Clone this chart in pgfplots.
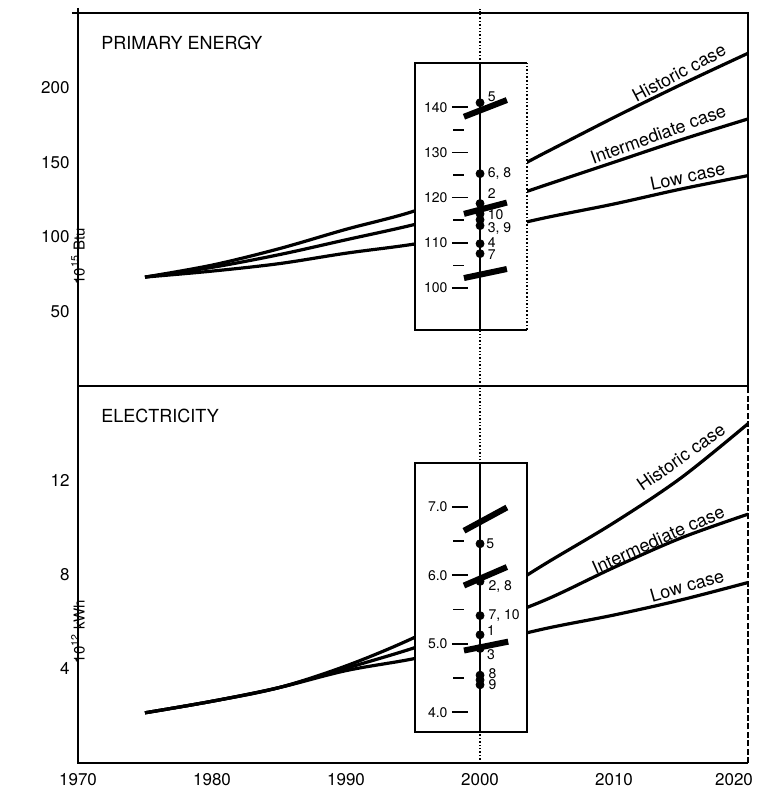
\documentclass[border=0pt]{standalone}
\usepackage{fontspec}
\setmainfont{TeX Gyre Heros}
\usepackage{pgfplots}
\pgfplotsset{compat=1.18}

\pgfplotsset{
  main/.style={
    scale only axis, width=335pt, anchor=south west,
    xmin=1970, xmax=2020,
    axis line style={line width=1pt},
    major tick length=0pt,
    ytick=\empty,
    /pgf/number format/assume math mode=true,
    /pgf/number format/1000 sep={},
    tick label style={font=\fontsize{8.5}{10}\selectfont},
    xticklabel style={yshift=-1.5pt},
    clip=false,
    every axis y label/.style={at={(rel axis cs:0,0.5)}, rotate=90, anchor=center,
      xshift=-28.5pt, font=\fontsize{7.5}{9}\selectfont},
  },
  case/.style={line width=1.6pt, smooth, tension=0.55, black},
  inset/.style={
    scale only axis, anchor=south west, width=56pt,
    xmin=1995.15, xmax=2003.5,
    axis background/.style={fill=white},
    axis line style={draw=none},
    xtick=\empty, ytick=\empty,
    clip=false,
  },
  bar/.style={line width=3pt, black},
  dot/.style={only marks, mark=*, mark size=2pt, black},
}
\tikzset{
  lbl/.style={font=\fontsize{9}{10}\selectfont, inner sep=0pt},
  ytl/.style={font=\fontsize{8.5}{10}\selectfont, inner sep=0pt, anchor=east, xshift=-4pt},
  itk/.style={font=\fontsize{7}{8}\selectfont, inner sep=0pt, anchor=east},
  ipt/.style={font=\fontsize{7}{8}\selectfont, inner sep=0pt, anchor=west},
}

\begin{document}
\begin{tikzpicture}
\path[use as bounding box] (0,0) rectangle (380pt,398.5pt);

% ---------- primary energy ----------
\begin{axis}[main, at={(39pt,205.5pt)}, height=186.5pt,
  ymin=0, ymax=250, xtick=\empty,
  ylabel={10\textsuperscript{15} Btu}]
  \node[ytl] at (axis cs:1970,50) {50};
  \node[ytl] at (axis cs:1970,100) {100};
  \node[ytl] at (axis cs:1970,150) {150};
  \node[ytl] at (axis cs:1970,200) {200};
  \draw[line width=1pt] ([yshift=2.5pt]rel axis cs:0,1) -- (rel axis cs:0,1);
  \draw[line width=1pt] ([xshift=-3pt]rel axis cs:0,1) -- (rel axis cs:0,1);
  \draw[densely dotted, line width=0.7pt] (axis cs:2000,0) -- (axis cs:2000,253);
  % historic
  \addplot[case] coordinates {(1975,73) (1980,81) (1985,92) (1990,105) (1995,117)
    (2000,134) (2005,157) (2010,180) (2015,202) (2020,223)};
  % intermediate
  \addplot[case] coordinates {(1975,73) (1980,79.5) (1985,88) (1990,98) (1995,108)
    (2000,120) (2005,135) (2010,150) (2015,165) (2020,179)};
  % low
  \addplot[case] coordinates {(1975,73) (1980,77) (1985,82) (1990,89) (1995,95)
    (2000,103) (2005,113) (2010,122) (2015,132) (2020,141)};
  \node[lbl, rotate=28] at (axis cs:2014.85,210) {Historic case};
  \node[lbl, rotate=20] at (axis cs:2013.3,168.7) {Intermediate case};
  \node[lbl, rotate=12] at (axis cs:2015.5,140.7) {Low case};
  \node[anchor=north west, inner sep=0pt, font=\fontsize{9}{10}\selectfont]
    at ([xshift=11.5pt,yshift=-11.5pt]rel axis cs:0,1) {PRIMARY ENERGY};
\end{axis}

% ---------- electricity ----------
\begin{axis}[main, at={(39pt,17pt)}, height=188.5pt,
  ymin=0, ymax=16, xtick={1970,1980,...,2010},
  extra x ticks={2020}, extra x tick style={xticklabel style={xshift=-7pt}},
  axis line style={draw=none},
  ylabel={10\textsuperscript{12} kWh}]
  \node[ytl] at (axis cs:1970,4) {4};
  \node[ytl] at (axis cs:1970,8) {8};
  \node[ytl] at (axis cs:1970,12) {12};
  \draw[line width=1pt] (rel axis cs:0,1) -- (rel axis cs:0,0) -- (rel axis cs:1,0);
  \draw[line width=1pt] (rel axis cs:0,1) -- (rel axis cs:1,1);
  \draw[line width=0.8pt, dash pattern=on 3pt off 1.2pt] (rel axis cs:1,0) -- (rel axis cs:1,1);
  \draw[densely dotted, line width=0.7pt] (axis cs:2000,0) -- (axis cs:2000,16);
  % historic
  \addplot[case] coordinates {(1975,2.13) (1980,2.62) (1985,3.2) (1990,4.12) (1995,5.3)
    (2000,6.75) (2005,8.5) (2010,10.2) (2015,12.1) (2020,14.4)};
  % intermediate
  \addplot[case] coordinates {(1975,2.13) (1980,2.62) (1985,3.2) (1990,4.02) (1995,4.87)
    (2000,5.85) (2005,6.95) (2010,8.3) (2015,9.55) (2020,10.56)};
  % low
  \addplot[case] coordinates {(1975,2.13) (1980,2.62) (1985,3.2) (1990,3.92) (1995,4.42)
    (2000,5.05) (2005,5.72) (2010,6.28) (2015,6.92) (2020,7.66)};
  \node[lbl, rotate=35] at (axis cs:2015.0,12.98) {Historic case};
  \node[lbl, rotate=24] at (axis cs:2013.3,9.49) {Intermediate case};
  \node[lbl, rotate=16] at (axis cs:2015.45,7.53) {Low case};
  \node[anchor=north west, inner sep=0pt, font=\fontsize{9}{10}\selectfont]
    at ([xshift=11.5pt,yshift=-11.5pt]rel axis cs:0,1) {ELECTRICITY};
\end{axis}

% ---------- inset, primary energy ----------
\begin{axis}[inset, at={(207.5pt,233.5pt)}, height=133.5pt, ymin=90.7, ymax=149.8]
  \draw[line width=0.8pt] (rel axis cs:1,1) -- (rel axis cs:0,1) -- (rel axis cs:0,0) -- (rel axis cs:1,0);
  \draw[line width=0.8pt, densely dotted] (rel axis cs:1,0) -- (rel axis cs:1,1);
  \draw[line width=0.6pt] (axis cs:2000,90.7) -- (axis cs:2000,149.8);
  \draw[line width=0.8pt] (axis cs:1997.9,140) -- (axis cs:1999.1,140)
    (axis cs:1997.9,130) -- (axis cs:1999.1,130)
    (axis cs:1997.9,120) -- (axis cs:1999.1,120)
    (axis cs:1997.9,110) -- (axis cs:1999.1,110)
    (axis cs:1997.9,100) -- (axis cs:1999.1,100)
    (axis cs:1998.0,135) -- (axis cs:1998.8,135)
    (axis cs:1998.0,125) -- (axis cs:1998.8,125)
    (axis cs:1998.0,115) -- (axis cs:1998.8,115)
    (axis cs:1998.0,105) -- (axis cs:1998.8,105);
  \node[itk] at (axis cs:1997.6,140) {140};
  \node[itk] at (axis cs:1997.6,130) {130};
  \node[itk] at (axis cs:1997.6,120) {120};
  \node[itk] at (axis cs:1997.6,110) {110};
  \node[itk] at (axis cs:1997.6,100) {100};
  \addplot[bar] coordinates {(1998.8,137.9) (2002.0,141.6)};
  \addplot[bar] coordinates {(1998.8,116.4) (2002.0,118.9)};
  \addplot[bar] coordinates {(1998.8,102.2) (2002.0,104.2)};
  \addplot[dot] coordinates {(2000,141) (2000,125.3) (2000,118.7) (2000,116.4)
    (2000,115.1) (2000,113.8) (2000,109.8) (2000,107.6)};
  \node[ipt] at (axis cs:2000.55,142.4) {5};
  \node[ipt] at (axis cs:2000.55,125.3) {6, 8};
  \node[ipt] at (axis cs:2000.55,120.9) {2};
  \node[ipt] at (axis cs:2000.55,116.3) {10};
  \node[ipt] at (axis cs:2000.55,113.1) {3, 9};
  \node[ipt] at (axis cs:2000.55,110.0) {4};
  \node[ipt] at (axis cs:2000.55,107.4) {7};
\end{axis}

% ---------- inset, electricity ----------
\begin{axis}[inset, at={(207.5pt,32.5pt)}, height=134.5pt, ymin=3.71, ymax=7.64]
  \draw[line width=0.8pt] (rel axis cs:0,0) rectangle (rel axis cs:1,1);
  \draw[line width=0.6pt] (axis cs:2000,3.71) -- (axis cs:2000,7.64);
  \draw[line width=0.8pt] (axis cs:1997.9,7) -- (axis cs:1999.1,7)
    (axis cs:1997.9,6) -- (axis cs:1999.1,6)
    (axis cs:1997.9,5) -- (axis cs:1999.1,5)
    (axis cs:1997.9,4) -- (axis cs:1999.1,4)
    (axis cs:1998.0,6.5) -- (axis cs:1998.8,6.5)
    (axis cs:1998.0,5.5) -- (axis cs:1998.8,5.5)
    (axis cs:1998.0,4.5) -- (axis cs:1998.8,4.5);
  \node[itk] at (axis cs:1997.6,7) {7.0};
  \node[itk] at (axis cs:1997.6,6) {6.0};
  \node[itk] at (axis cs:1997.6,5) {5.0};
  \node[itk] at (axis cs:1997.6,4) {4.0};
  \addplot[bar] coordinates {(1998.8,6.65) (2002.0,6.99)};
  \addplot[bar] coordinates {(1998.8,5.85) (2002.0,6.12)};
  \addplot[bar] coordinates {(1998.8,4.90) (2002.1,5.03)};
  \addplot[dot] coordinates {(2000,6.46) (2000,5.91) (2000,5.41) (2000,5.13) (2000,4.93)
    (2000,4.54) (2000,4.47) (2000,4.40)};
  \node[ipt] at (axis cs:2000.45,6.46) {5};
  \node[ipt] at (axis cs:2000.6,5.83) {2, 8};
  \node[ipt] at (axis cs:2000.6,5.41) {7, 10};
  \node[ipt] at (axis cs:2000.5,5.19) {1};
  \node[ipt] at (axis cs:2000.5,4.84) {3};
  \node[ipt] at (axis cs:2000.6,4.56) {8};
  \node[ipt] at (axis cs:2000.6,4.40) {9};
\end{axis}
\end{tikzpicture}
\end{document}
